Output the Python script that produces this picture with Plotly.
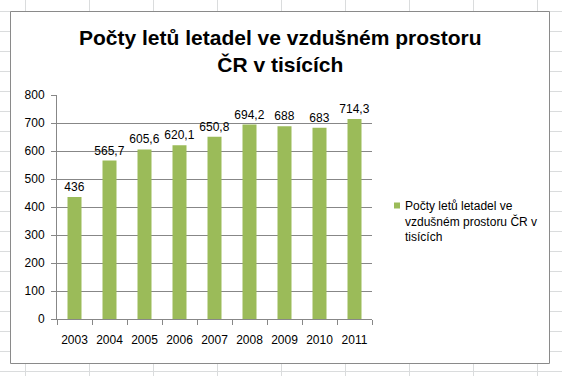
import plotly.graph_objects as go

# ---- data ----
years = ["2003", "2004", "2005", "2006", "2007", "2008", "2009", "2010", "2011"]
flights = [436, 565.7, 605.6, 620.1, 650.8, 694.2, 688, 683, 714.3]
labels = [f"{v:g}".replace(".", ",") for v in flights]
series_name = "Počty letů letadel ve vzdušném prostoru ČR v tisících"
title_text = "Počty letů letadel ve vzdušném prostoru<br>ČR v tisících"
legend_lines = ["Počty letů letadel ve", "vzdušném prostoru ČR v", "tisících"]

W, H = 562, 376
L, R, T, B = 57, 190, 95, 57
PW, PH = W - L - R, H - T - B

def px(x):
    return (x - L) / PW

def py(y):
    return (H - B - y) / PH

GREEN = "#9BBB59"
GRID = "#878787"
SHEET = "#DADCDD"
FONT = "Liberation Sans, Arial, sans-serif"

fig = go.Figure(go.Bar(
    x=years, y=flights, text=labels, textposition="outside",
    constraintext="none",
    textfont=dict(family=FONT, size=12, color="black"),
    marker=dict(color=GREEN, line=dict(width=0)),
    cliponaxis=False, name=series_name, showlegend=False,
))

shapes = []
# spreadsheet cell grid behind the chart
for k in range(9):
    x = 25.5 + 64 * k
    shapes.append(dict(type="line", xref="paper", yref="paper", layer="below",
                       x0=px(x), x1=px(x), y0=py(0), y1=py(H),
                       line=dict(color=SHEET, width=1)))
for k in range(19):
    y = 11.5 + 20 * k
    shapes.append(dict(type="line", xref="paper", yref="paper", layer="below",
                       x0=px(0), x1=px(W), y0=py(y), y1=py(y),
                       line=dict(color=SHEET, width=1)))
# chart area
shapes.append(dict(type="rect", xref="paper", yref="paper", layer="below",
                   x0=px(10.5), x1=px(549.5), y0=py(363.5), y1=py(11.5),
                   fillcolor="white", line=dict(color="#8A8A8A", width=1)))
# legend key
shapes.append(dict(type="rect", xref="paper", yref="paper", layer="above",
                   x0=px(394), x1=px(400), y0=py(208.5), y1=py(202.5),
                   fillcolor=GREEN, line=dict(width=0)))

annotations = [
    dict(xref="paper", yref="paper", x=px(403), y=py(196.5),
         xanchor="left", yanchor="top", align="left", showarrow=False,
         text="<br>".join(legend_lines),
         font=dict(family=FONT, size=12, color="black")),
    dict(xref="paper", yref="paper", x=px(280), y=py(51),
         xanchor="center", yanchor="middle", align="center", showarrow=False,
         text=title_text,
         font=dict(family=FONT, size=21, color="black", weight="bold")),
]

fig.update_layout(
    width=W, height=H,
    margin=dict(l=L, r=R, t=T, b=B, autoexpand=False),
    paper_bgcolor="white", plot_bgcolor="rgba(0,0,0,0)",
    bargap=0.6,
    font=dict(family=FONT, size=12, color="black"),
    xaxis=dict(type="category", showgrid=False, showline=True, linecolor=GRID,
               linewidth=1, ticks="outside", tickson="boundaries", ticklen=5,
               tickcolor=GRID, tickfont=dict(size=12, color="black"),
               tickangle=0, automargin=False, ticklabelstandoff=10),
    yaxis=dict(range=[0, 800], dtick=100, showgrid=True, gridcolor=GRID,
               gridwidth=1, showline=True, linecolor=GRID, linewidth=1,
               ticks="outside", ticklen=5, tickcolor=GRID, zeroline=False,
               automargin=False,
               tickfont=dict(size=12, color="black"), ticklabelstandoff=4),
    shapes=shapes, annotations=annotations, showlegend=False,
)

fig.write_html("out.html", config={"displayModeBar": False},
               post_script="document.body.style.margin='0';")
